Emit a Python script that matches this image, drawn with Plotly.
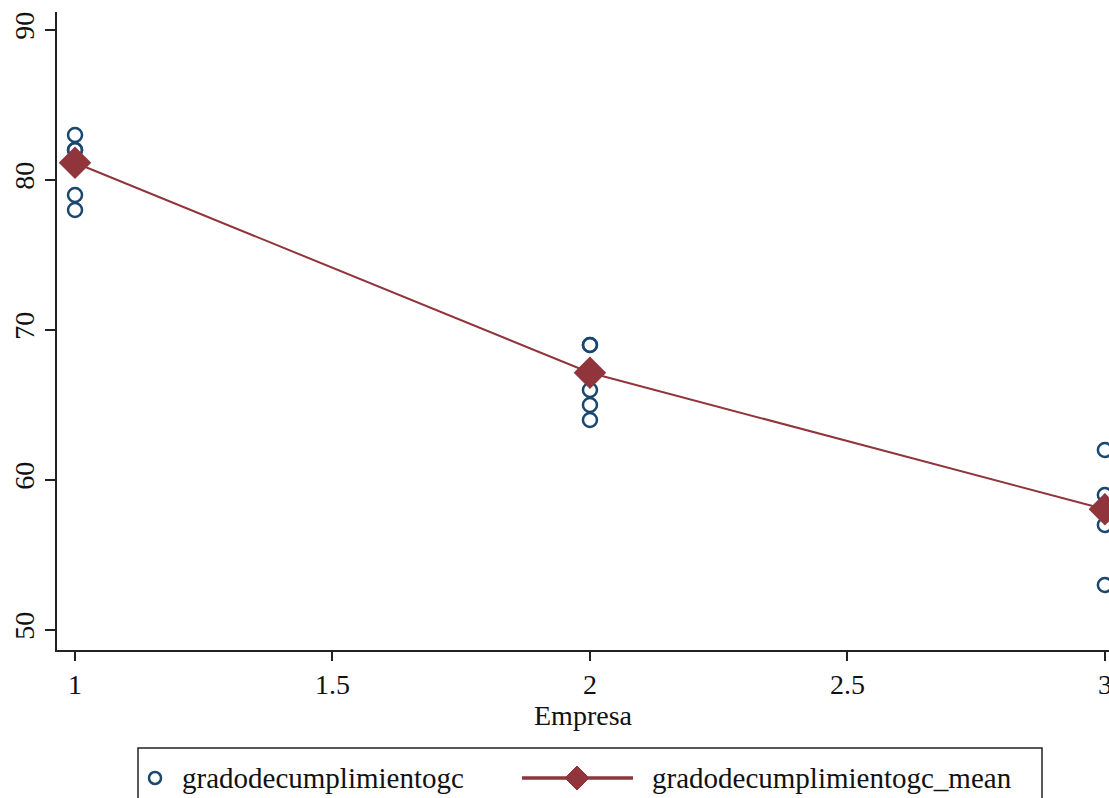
import plotly.graph_objects as go

# Data
empresa_obs = [1, 1, 1, 1, 1, 1, 2, 2, 2, 2, 2, 2, 3, 3, 3, 3, 3]
grado_obs = [83, 82, 82, 81, 79, 78, 69, 69, 67, 66, 65, 64, 62, 59, 58, 57, 53]
empresa_mean = [1, 2, 3]
grado_mean = [81.15, 67.15, 58.05]
series_names = ["gradodecumplimientogc", "gradodecumplimientogc_mean"]

navy = "#1a476f"
maroon = "#90353b"
font = "Liberation Serif"

W, H = 1109, 798
ML, MR, MT, MB = 57, 0, 12, 148
PW, PH = W - ML - MR, H - MT - MB


def px_x(p):
    return (p - ML) / PW


def px_y(p):
    return (H - MB - p) / PH


fig = go.Figure()
fig.add_trace(go.Scatter(
    x=empresa_obs, y=grado_obs, mode="markers",
    name=series_names[0],
    marker=dict(symbol="circle-open", size=14, color=navy, line=dict(width=2.5, color=navy)),
))
fig.add_trace(go.Scatter(
    x=empresa_mean, y=grado_mean, mode="lines+markers",
    name=series_names[1],
    line=dict(color=maroon, width=2),
    marker=dict(symbol="diamond", size=25, color=maroon),
))

# Legend drawn as a framed box below the plot (Stata-style)
ly = px_y(778)
shapes = [
    dict(type="rect", xref="paper", yref="paper", x0=px_x(138), x1=px_x(1042),
         y0=px_y(748), y1=px_y(812), line=dict(color="#222", width=1.5), fillcolor="white",
         layer="above"),
    dict(type="circle", xref="paper", yref="paper", xsizemode="pixel", ysizemode="pixel",
         xanchor=px_x(155), yanchor=ly, x0=-6, x1=6, y0=-6, y1=6,
         line=dict(color=navy, width=2.5)),
    dict(type="line", xref="paper", yref="paper", x0=px_x(522), x1=px_x(633), y0=ly, y1=ly,
         line=dict(color=maroon, width=3.5)),
    dict(type="path", xref="paper", yref="paper", xsizemode="pixel", ysizemode="pixel",
         xanchor=px_x(577), yanchor=ly, path="M -12,0 L 0,12 L 12,0 L 0,-12 Z",
         fillcolor=maroon, line=dict(color=maroon, width=1)),
]
annotations = [
    dict(text=series_names[0], xref="paper", yref="paper", x=px_x(180), y=ly,
         xanchor="left", yanchor="middle", showarrow=False, font=dict(family=font, size=29, color="#111")),
    dict(text=series_names[1], xref="paper", yref="paper", x=px_x(650), y=ly,
         xanchor="left", yanchor="middle", showarrow=False, font=dict(family=font, size=29, color="#111")),
]

fig.update_layout(
    width=W, height=H,
    paper_bgcolor="white", plot_bgcolor="white",
    margin=dict(l=ML, r=MR, t=MT, b=MB),
    font=dict(family=font, size=28, color="#111"),
    showlegend=False,
    shapes=shapes,
    annotations=annotations,
    xaxis=dict(
        range=[0.965, 3.008], tickvals=[1, 1.5, 2, 2.5, 3], ticktext=["1", "1.5", "2", "2.5", "3"],
        showgrid=False, zeroline=False, showline=True, linecolor="#222", linewidth=1.5,
        ticks="outside", ticklen=9, tickcolor="#222", tickwidth=1.5,
        ticklabeloverflow="allow",
        title=dict(text="Empresa", font=dict(family=font, size=28), standoff=2),
        automargin=False,
    ),
    yaxis=dict(
        range=[48.67, 91.2], tickvals=[50, 60, 70, 80, 90],
        showgrid=False, zeroline=False, showline=True, linecolor="#222", linewidth=1.5,
        ticks="outside", ticklen=10, tickcolor="#222", tickwidth=1.5, tickangle=-90,
        automargin=False,
    ),
)

fig.write_html("out.html")
